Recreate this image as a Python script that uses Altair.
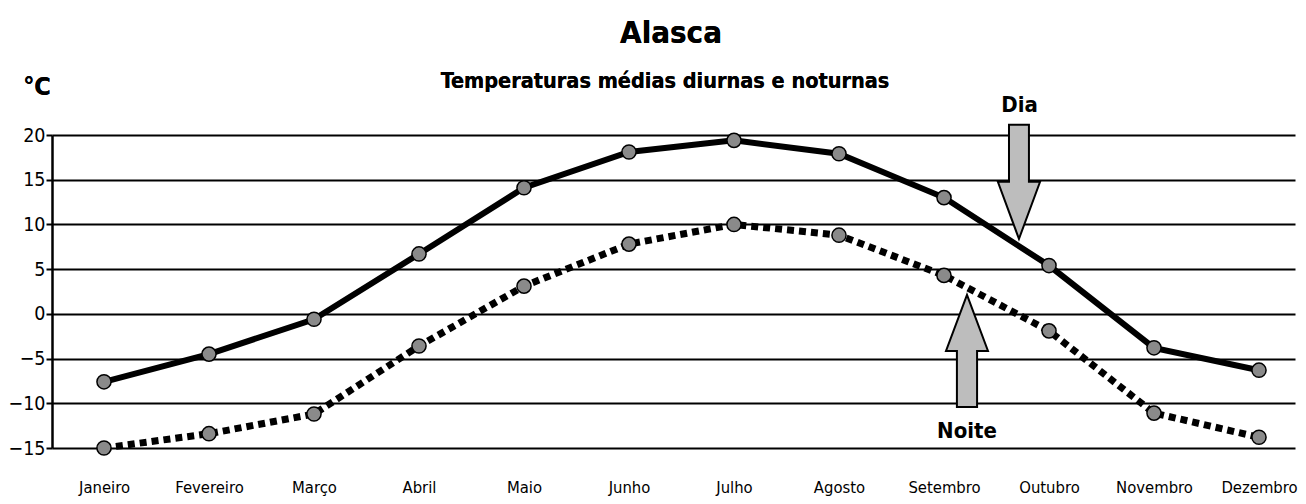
import json
import altair as alt
import pandas as pd

FONT = "'DejaVu Sans Condensed', 'Liberation Sans', sans-serif"

months = ["Janeiro", "Fevereiro", "Março", "Abril", "Maio", "Junho",
          "Julho", "Agosto", "Setembro", "Outubro", "Novembro", "Dezembro"]
dia = [-7.6, -4.5, -0.6, 6.7, 14.1, 18.1, 19.4, 17.9, 13.0, 5.4, -3.8, -6.3]
noite = [-15.0, -13.4, -11.2, -3.6, 3.1, 7.8, 10.0, 8.8, 4.3, -1.9, -11.1, -13.8]
y_ticks = [-15, -10, -5, 0, 5, 10, 15, 20]

# annotation arrows / labels (data coordinates)
arrow_names = ["Dia", "Noite"]
arrow_x = [8.714, 8.219]
arrow_y = [14.76, -4.15]
label_x = [8.72, 8.219]
label_y = [22.6, -13.9]

idx = list(range(len(months)))
df_dia = pd.DataFrame({"i": idx, "mes": months, "t": dia})
df_noite = pd.DataFrame({"i": idx, "mes": months, "t": noite})

x_scale = alt.Scale(domain=[-0.4952, 11.3429], nice=False, zero=False)
y_scale = alt.Scale(domain=[-15, 20], nice=False, zero=False)

label_expr = json.dumps(months) + "[datum.value]"

x_enc = alt.X("i:Q", scale=x_scale, title=None,
              axis=alt.Axis(values=idx, labelExpr=label_expr, domain=False,
                            ticks=False, grid=False, labelFont=FONT,
                            labelFontSize=16.5, labelColor="black",
                            labelBaseline="alphabetic", labelPadding=44,
                            labelFlush=False, labelOverlap=False))
y_enc = alt.Y("t:Q", scale=y_scale, title=None,
              axis=alt.Axis(values=y_ticks, grid=True, gridColor="black",
                            gridWidth=2, gridOpacity=1, domain=True,
                            domainColor="black", domainWidth=2.5,
                            ticks=True, tickSize=6, tickColor="black",
                            tickWidth=2, labelFont=FONT, labelFontSize=19.5,
                            labelColor="black", labelPadding=1))

line_dia = alt.Chart(df_dia).mark_line(color="black", strokeWidth=6).encode(
    x=x_enc, y=y_enc)
line_noite = alt.Chart(df_noite).mark_line(
    color="black", strokeWidth=7, strokeDash=[7, 5]).encode(x="i:Q", y="t:Q")

pts_dia = alt.Chart(df_dia).mark_point(
    shape="circle", filled=True, fill="#8a8a8a", stroke="black",
    strokeWidth=1.5, size=200, opacity=1).encode(x="i:Q", y="t:Q")
pts_noite = alt.Chart(df_noite).mark_point(
    shape="circle", filled=True, fill="#8a8a8a", stroke="black",
    strokeWidth=1.5, size=200, opacity=1).encode(x="i:Q", y="t:Q")

df_ad = pd.DataFrame({"n": [arrow_names[0]], "x": [arrow_x[0]], "y": [arrow_y[0]]})
df_an = pd.DataFrame({"n": [arrow_names[1]], "x": [arrow_x[1]], "y": [arrow_y[1]]})

arrow_down = alt.Chart(df_ad).mark_point(
    shape="M-0.175,-1 L0.175,-1 L0.175,0 L0.37,0 L0,1 L-0.37,0 L-0.175,0 Z",
    filled=True, fill="#bdbdbd", stroke="black", strokeWidth=2,
    size=12996, opacity=1).encode(x="x:Q", y="y:Q")
arrow_up = alt.Chart(df_an).mark_point(
    shape="M0,-1 L0.375,0 L0.18,0 L0.18,1 L-0.18,1 L-0.18,0 L-0.375,0 Z",
    filled=True, fill="#bdbdbd", stroke="black", strokeWidth=2,
    size=12544, opacity=1).encode(x="x:Q", y="y:Q")

df_lab = pd.DataFrame({"n": arrow_names, "x": label_x, "y": label_y})
labels = alt.Chart(df_lab).mark_text(
    font=FONT, fontSize=22, fontWeight="bold", color="black",
    align="center", baseline="alphabetic").encode(
    x="x:Q", y="y:Q", text="n:N")

title = alt.Chart(df_lab).mark_text(
    text="Alasca", font=FONT, fontSize=31, fontWeight="bold", color="black",
    align="center", baseline="alphabetic").encode(
    x=alt.value(619), y=alt.value(-92))
subtitle = alt.Chart(df_lab).mark_text(
    text="Temperaturas médias diurnas e noturnas", font=FONT, fontSize=21.5,
    fontWeight="bold", color="black", align="center",
    baseline="alphabetic").encode(x=alt.value(613), y=alt.value(-47))
unit = alt.Chart(df_lab).mark_text(
    text="°C", font=FONT, fontSize=25, fontWeight="bold", color="black",
    align="center", baseline="alphabetic").encode(
    x=alt.value(-15), y=alt.value(-40))

chart = alt.layer(
    line_dia, line_noite, arrow_down, arrow_up, pts_dia, pts_noite,
    labels, title, subtitle, unit
).properties(
    width=1243, height=313,
    autosize=alt.AutoSizeParams(type="none"),
    padding={"left": 44, "top": 127, "right": 3, "bottom": 48},
    background="white",
).configure_view(strokeWidth=0)

chart.save("out.html", embed_options={"renderer": "svg", "actions": False})
